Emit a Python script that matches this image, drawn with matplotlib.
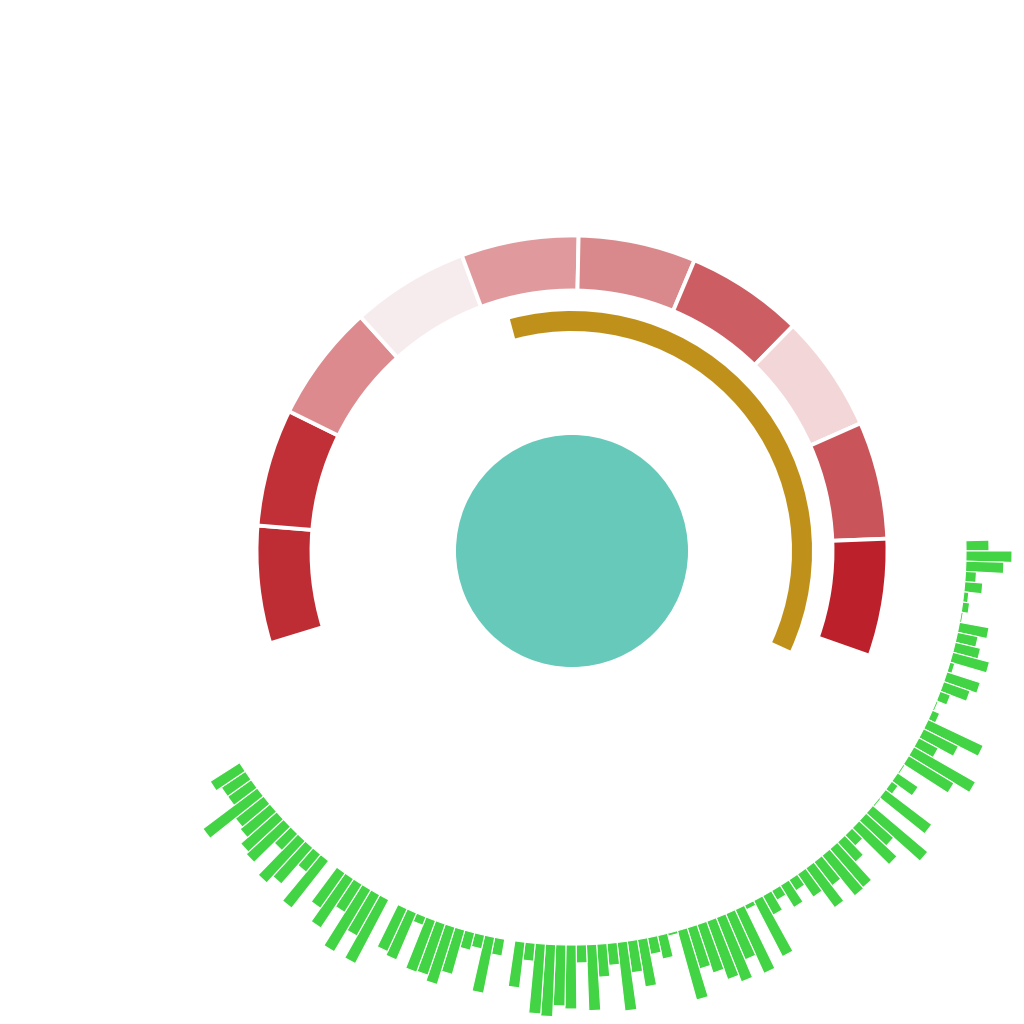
import numpy as np
import matplotlib
matplotlib.use("Agg")
import matplotlib.pyplot as plt

# ---------------- data ----------------
# outer red ring: 10 segments (clockwise from lower-left)
ring_colors = ["#bf2d34", "#c03036", "#dc8a8e", "#f7eced", "#e0999c",
               "#d9898b", "#cc5d63", "#f3d6d8", "#c9545a", "#bb202b"]
ring_start_deg = -107.0
ring_span_deg = 216.4

# gold progress arc (degrees, clockwise from top)
gold_start_deg = -15.0
gold_end_deg = 114.5

# green radial bars (clockwise from right side)
green_values = [23, 46, 38, 11, 18, 5, 7, 2, 30, 21,
                26, 38, 5, 35, 28, 11, 2, 8, 61, 39,
                22, 71, 53, 2, 25, 8, 58, 2, 72, 37,
                52, 15, 27, 51, 52, 30, 49, 28, 13, 26,
                11, 22, 63, 5, 70, 50, 69, 62, 51, 43,
                72, 3, 24, 17, 48, 32, 69, 22, 33, 66,
                18, 64, 61, 72, 70, 18, 46, 0.5, 17, 57,
                14, 18, 46, 60, 54, 55, 9, 51, 47, 0.5,
                72, 47, 72, 33, 59, 43, 0.5, 60, 23, 48,
                57, 23, 51, 48, 39, 36, 68, 29, 29, 35]
green_start_deg = 89.25
green_step_deg = 1.49

# ---------------- layout ----------------
W = 1024
cx, cy = 572, 551       # centre in pixels (y from top)
R = 480                 # axes radius in pixels

fig = plt.figure(figsize=(10.24, 10.24), dpi=100)
fig.patch.set_facecolor("white")
ax = fig.add_axes([(cx - R) / W, (W - cy - R) / W, 2 * R / W, 2 * R / W],
                  projection="polar")
ax.set_theta_zero_location("N")
ax.set_theta_direction(-1)
ax.set_ylim(0, R)
ax.set_axis_off()

# centre disc
ax.bar(0, 116, width=2 * np.pi, bottom=0, color="#66c9b9", edgecolor="none")

# red ring
n_ring = len(ring_colors)
seg = ring_span_deg / n_ring
ring_theta = np.deg2rad(ring_start_deg + seg * (np.arange(n_ring) + 0.5))
ax.bar(ring_theta, 55, width=np.deg2rad(seg), bottom=260.5,
       color=ring_colors, edgecolor="white", linewidth=2.8)

# gold arc
g0, g1 = np.deg2rad(gold_start_deg), np.deg2rad(gold_end_deg)
ax.bar((g0 + g1) / 2, 20, width=g1 - g0, bottom=220,
       color="#c0911a", edgecolor="none")

# green bars
gv = np.array(green_values, dtype=float)
gtheta = np.deg2rad(green_start_deg + green_step_deg * np.arange(len(gv)))
ax.bar(gtheta, gv, width=np.deg2rad(green_step_deg), bottom=394,
       color="#42d444", edgecolor="white", linewidth=0.8)

fig.savefig("out.png", dpi=100, facecolor="white")
